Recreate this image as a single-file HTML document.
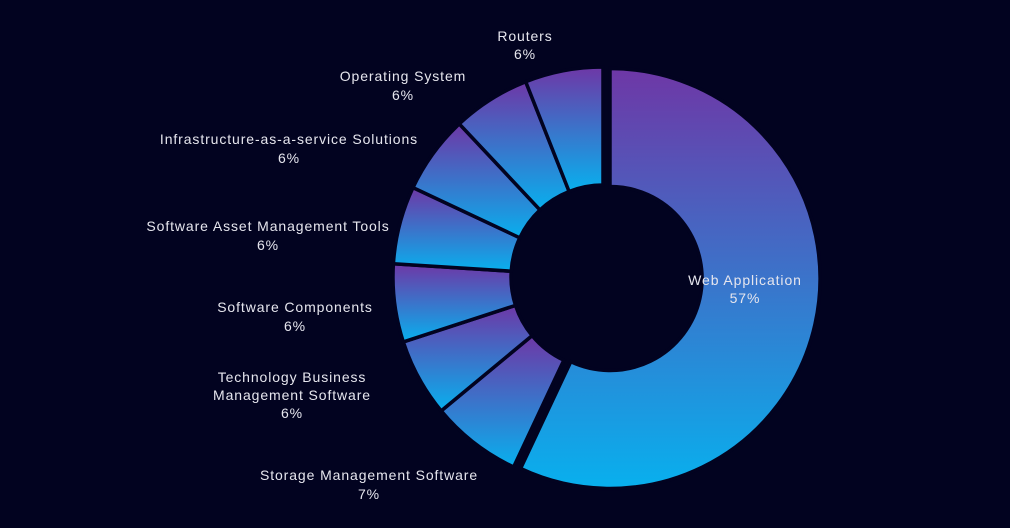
<!DOCTYPE html>
<html><head><meta charset="utf-8"><style>
html,body{margin:0;padding:0;background:#020320;}
svg{display:block}
text{font-family:"Liberation Sans",sans-serif;font-size:14px;letter-spacing:0.9px;fill:#e6e6ee;text-anchor:middle}
</style></head><body>
<svg width="1010" height="528" viewBox="0 0 1010 528">
<defs>
<linearGradient id="g" x1="0" y1="0" x2="0" y2="1">
<stop offset="0" stop-color="#6e37a6"/>
<stop offset="1" stop-color="#08b0ee"/>
</linearGradient>
</defs>
<rect width="1010" height="528" fill="#020320"/>
<g fill="url(#g)" stroke="#020320" stroke-width="3.5">
<path transform="translate(7,1.5)" d="M603,67 A210,210 0 1 1 513.6,467 L563.8,360.2 A92,92 0 1 0 603,185 Z"/>
<path d="M513.6,467 A210,210 0 0 1 441.2,410.9 L532.1,335.6 A92,92 0 0 0 563.8,360.2 Z"/>
<path d="M441.2,410.9 A210,210 0 0 1 403.3,341.9 L515.5,305.4 A92,92 0 0 0 532.1,335.6 Z"/>
<path d="M403.3,341.9 A210,210 0 0 1 393.4,263.8 L511.2,271.2 A92,92 0 0 0 515.5,305.4 Z"/>
<path d="M393.4,263.8 A210,210 0 0 1 413,187.6 L519.8,237.8 A92,92 0 0 0 511.2,271.2 Z"/>
<path d="M413,187.6 A210,210 0 0 1 459.3,123.9 L540,209.9 A92,92 0 0 0 519.8,237.8 Z"/>
<path d="M459.3,123.9 A210,210 0 0 1 525.7,81.7 L569.1,191.5 A92,92 0 0 0 540,209.9 Z"/>
<path d="M525.7,81.7 A210,210 0 0 1 603,67 L603,185 A92,92 0 0 0 569.1,191.5 Z"/>
</g>
<text x="525" y="41">Routers</text><text x="525" y="59">6%</text>
<text x="403" y="81">Operating System</text><text x="403" y="100">6%</text>
<text x="289" y="144">Infrastructure-as-a-service Solutions</text><text x="289" y="163">6%</text>
<text x="268" y="231">Software Asset Management Tools</text><text x="268" y="250">6%</text>
<text x="295" y="312">Software Components</text><text x="295" y="331">6%</text>
<text x="292" y="382">Technology Business</text><text x="292" y="400">Management Software</text><text x="292" y="418">6%</text>
<text x="369" y="480">Storage Management Software</text><text x="369" y="499">7%</text>
<text x="745" y="285">Web Application</text><text x="745" y="303">57%</text>
</svg>
</body></html>
